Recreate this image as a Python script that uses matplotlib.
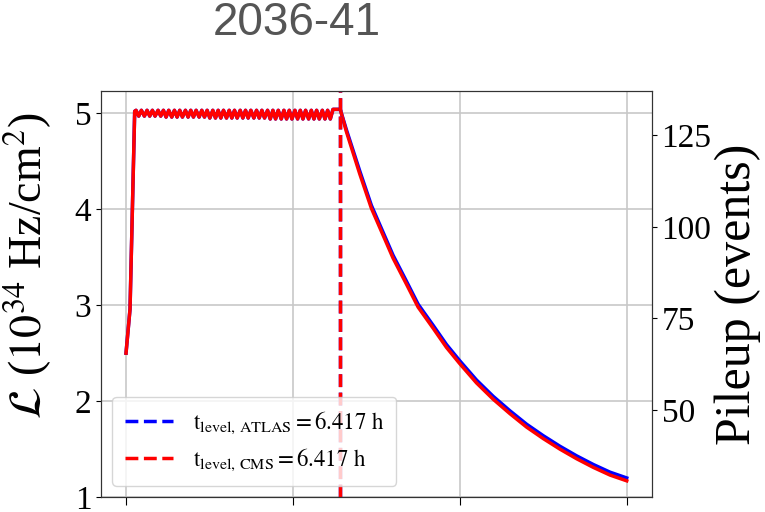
import matplotlib
matplotlib.use('Agg')
import matplotlib.pyplot as plt

plt.rcParams['font.family'] = ['Liberation Serif', 'DejaVu Serif']
plt.rcParams['mathtext.fontset'] = 'stix'

# luminosity (1e34 Hz/cm^2) vs time (h)
t_rise = [0.0, 0.12, 0.26]
lumi_rise = [2.50, 2.96, 5.02]

t_level = [0.30, 0.38, 0.46, 0.55, 0.63, 0.71, 0.79, 0.87, 0.96, 1.04,
           1.12, 1.20, 1.28, 1.37, 1.45, 1.53, 1.61, 1.69, 1.78, 1.86,
           1.94, 2.02, 2.10, 2.19, 2.27, 2.35, 2.43, 2.51, 2.60, 2.68,
           2.76, 2.84, 2.92, 3.01, 3.09, 3.17, 3.25, 3.33, 3.42, 3.50,
           3.58, 3.66, 3.74, 3.83, 3.91, 3.99, 4.07, 4.15, 4.24, 4.32,
           4.40, 4.48, 4.56, 4.65, 4.73, 4.81, 4.89, 4.97, 5.06, 5.14,
           5.22, 5.30, 5.38, 5.47, 5.55, 5.63, 5.71, 5.79, 5.88, 5.96,
           6.04, 6.12, 6.20, 6.28, 6.417]
lumi_level = [5.03, 4.97, 5.03, 4.97, 5.03, 4.97, 5.03, 4.97, 5.03, 4.97,
              5.03, 4.96, 5.03, 4.96, 5.03, 4.96, 5.03, 4.96, 5.03, 4.96,
              5.03, 4.96, 5.03, 4.96, 5.03, 4.96, 5.03, 4.95, 5.03, 4.95,
              5.03, 4.95, 5.03, 4.95, 5.03, 4.95, 5.03, 4.95, 5.03, 4.95,
              5.03, 4.95, 5.03, 4.95, 5.03, 4.95, 5.03, 4.95, 5.03, 4.94,
              5.03, 4.94, 5.03, 4.94, 5.03, 4.94, 5.03, 4.94, 5.03, 4.94,
              5.03, 4.94, 5.03, 4.94, 5.03, 4.94, 5.03, 4.94, 5.03, 4.94,
              5.03, 4.94, 5.04, 5.04, 5.04]

t_decay = [6.6, 7.0, 7.35, 7.7, 8.0, 8.4, 8.75, 9.2, 9.6, 10.0,
           10.5, 11.0, 11.5, 12.0, 12.5, 13.0, 13.5, 14.0, 14.5, 15.0]
lumi_decay_atlas = [4.83, 4.40, 4.04, 3.76, 3.52, 3.25, 3.01, 2.79, 2.59, 2.42,
                    2.22, 2.05, 1.90, 1.76, 1.64, 1.53, 1.43, 1.34, 1.26, 1.20]
lumi_decay_cms = [4.81, 4.37, 4.01, 3.73, 3.49, 3.22, 2.98, 2.76, 2.56, 2.39,
                  2.19, 2.02, 1.87, 1.73, 1.61, 1.50, 1.40, 1.31, 1.23, 1.17]

t_level_atlas = 6.417
t_level_cms = 6.417
pileup_per_lumi = 26.2

t_atlas = t_rise + t_level + t_decay
t_cms = t_rise + t_level + t_decay
lumi_atlas = lumi_rise + lumi_level + lumi_decay_atlas
lumi_cms = lumi_rise + lumi_level + lumi_decay_cms

fig = plt.figure(figsize=(7.65, 5.12), dpi=100)
ax = fig.add_axes([0.132, 0.029, 0.720, 0.793])

ax.plot(t_atlas, lumi_atlas, color='blue', lw=2.5)
ax.plot(t_cms, lumi_cms, color='red', lw=2.5)
ax.axvline(t_level_atlas, color='blue', ls='--', lw=2.5,
           label=r'$\mathrm{t_{level,\,ATLAS}=6.417\ h}$')
ax.axvline(t_level_cms, color='red', ls='--', lw=2.5,
           label=r'$\mathrm{t_{level,\,CMS}=6.417\ h}$')

ax.set_ylim(1, 5.23)
ax.set_yticks([1, 2, 3, 4, 5])
ax.set_xticks([0, 5, 10, 15])
ax.tick_params(axis='x', labelbottom=False, length=6)
ax.tick_params(axis='y', labelsize=24)
ax.grid(True, color='#c8c8c8', lw=1.2)
ax.set_ylabel(r'$\mathcal{L}$ ($10^{34}$ Hz/cm$^2$)', fontsize=33)
ax.yaxis.set_label_coords(-0.085, 0.57)
ax.legend(loc='lower left', fontsize=16.5, handlelength=2.1, handletextpad=0.85,
          borderpad=0.55, labelspacing=0.45)

ax2 = ax.twinx()
ax2.set_ylim(1 * pileup_per_lumi, 5.23 * pileup_per_lumi)
ax2.set_yticks([50, 75, 100, 125])
ax2.tick_params(axis='y', labelsize=24)
ax2.set_ylabel('Pileup (events)', fontsize=36, labelpad=2)

for a in (ax, ax2):
    for s in a.spines.values():
        s.set_color('#333333')

fig.text(0.388, 0.955, '2036-41', ha='center', va='center', fontsize=33,
         color='#555555', family='Liberation Sans')

fig.savefig('out.png', dpi=100)
